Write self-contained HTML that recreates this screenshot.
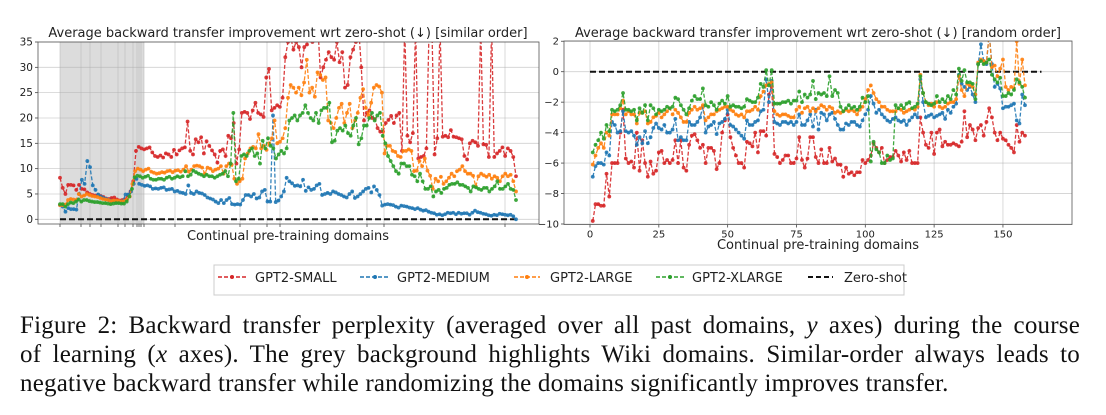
<!DOCTYPE html>
<html><head><meta charset="utf-8"><style>
body{margin:0;width:1106px;height:415px;background:#fff;overflow:hidden;position:relative}
svg{position:absolute;left:0;top:0}
text{font-family:"DejaVu Sans","Liberation Sans",sans-serif;fill:#222}
#cap{position:absolute;left:20px;top:311px;width:1060px;font-family:"Liberation Serif",serif;font-size:25px;letter-spacing:0.2px;line-height:29px;color:#111}
#cap .ln{display:block;text-align:justify;text-align-last:justify;white-space:nowrap}
#cap .last{text-align-last:left}
</style></head><body>
<svg id="svg" width="1106" height="415">
<defs>
<clipPath id="cl"><rect x="38" y="42" width="501" height="182"/></clipPath>
<clipPath id="cr"><rect x="564" y="41" width="508" height="183"/></clipPath>
</defs>
<g id="left"></g>
<g id="right"></g>
<g>
<rect x="214" y="265" width="690" height="30" fill="#fff" stroke="#ccc"/>
<g><line x1="218" y1="277" x2="246" y2="277" stroke="#d62728" stroke-width="1.4" stroke-dasharray="4,2"/><circle cx="232" cy="277" r="2" fill="#d62728"/><text x="255" y="282" font-size="13">GPT2-SMALL</text></g>
<g><line x1="360" y1="277" x2="390" y2="277" stroke="#1f77b4" stroke-width="1.4" stroke-dasharray="4,2"/><circle cx="375" cy="277" r="2" fill="#1f77b4"/><text x="397" y="282" font-size="13">GPT2-MEDIUM</text></g>
<g><line x1="514" y1="277" x2="540" y2="277" stroke="#ff7f0e" stroke-width="1.4" stroke-dasharray="4,2"/><circle cx="527" cy="277" r="2" fill="#ff7f0e"/><text x="550" y="282" font-size="13">GPT2-LARGE</text></g>
<g><line x1="656" y1="277" x2="684" y2="277" stroke="#2ca02c" stroke-width="1.4" stroke-dasharray="4,2"/><circle cx="670" cy="277" r="2" fill="#2ca02c"/><text x="692" y="282" font-size="13">GPT2-XLARGE</text></g>
<g><line x1="808" y1="277" x2="833" y2="277" stroke="#111" stroke-width="2" stroke-dasharray="5,3"/><text x="844" y="282" font-size="13">Zero-shot</text></g>
</g>
</svg>
<div id="cap"><span class="ln">Figure 2: Backward transfer perplexity (averaged over all past domains, <i>y</i> axes) during the course</span><span class="ln">of learning (<i>x</i> axes). The grey background highlights Wiki domains. Similar-order always leads to</span><span class="ln last">negative backward transfer while randomizing the domains significantly improves transfer.</span></div>
<script>
const colors={small:'#d62728',medium:'#1f77b4',large:'#ff7f0e',xlarge:'#2ca02c'};
const seriesNames=['small','medium','large','xlarge'];
// Left chart (similar order)
const leftYTicks=[0,5,10,15,20,25,30,35];
const leftSmall=[8.2,6.2,5,6.8,6.8,6.7,5.8,6.8,6,5.9,5.3,5,4.8,4.7,4.8,4.6,4.4,4.1,4,4.2,4.3,3.9,3.7,3.8,3.9,4.8,5.5,7.5,13.5,14.3,14,13.8,14,14.2,13.2,12.5,12.3,12.6,12.2,13,12.8,12.3,13.7,12.8,13.6,14,14.2,19.3,13.5,12.8,15.8,15.2,16.2,13,15.4,14.5,13.6,12.8,11.2,13.5,13.8,12.5,16.5,16,19,11,13.8,21,21.2,21,19.8,21.5,23,21,20.7,20.2,28,29.7,21.5,22,22.5,22.2,24,32,35,36,33.5,35,34,30,34,34.5,38,35,36,38,28,30,31.5,33,32,31.5,35,31,33,26,26.5,32,33.5,35,38,30,19.5,21,21.5,20,19.8,18,17.3,17.3,19,19.6,20.4,19,20.5,21,13.5,38,16.5,15.2,17,38,12,12.3,12.5,14,38,38,12.8,16,38,16.3,16.5,16.2,17.6,16.3,16.2,16,15.8,12.5,11.8,15,15.5,15.2,14.5,38,14.8,14.7,12.3,38,12.3,13,13.5,14.2,12.5,14,13.5,12.3,8.5];
const leftMedium=[2.8,2.5,1.5,2.2,2,2,1.9,5,7.8,7,11.5,10.3,6.7,5.8,4.9,4.5,4.2,4.0,3.8,3.6,3.6,3.4,3.5,3.6,4.9,4.9,5.5,7,8,7,6.8,6.6,6.7,6.5,6,6.1,6,6.2,6.3,5.8,5.9,6,5.5,5.6,5.3,5.2,5,6.7,5.2,5,5.5,5.2,5.1,4.8,4.3,4.1,3.9,3.5,3.2,3.8,3.2,3.8,4.2,3,2.9,3,2.9,3.8,4.8,4.8,4.5,5,4.1,4.3,5.5,5.8,3.5,3.5,20.5,3.4,3.7,4.5,5.5,8.2,7.5,7.1,6.6,6.7,6.5,7.8,5.6,6.3,5.8,6,6.7,7,4.8,5,5.2,5,5.5,5.3,5,4.8,4.5,4.3,5,5.5,4.2,4.5,5,5.5,6,6.2,5.3,6.5,5.8,4.8,2.7,2.9,3,2.9,2.8,2.5,2.3,2.7,2.6,2.5,2.3,2.2,2.0,2.2,1.9,1.7,1.8,1.5,1.3,1.2,0.9,1,0.8,1,1.3,1.2,1.3,1,1.3,1.1,1.2,1.2,0.9,1.3,1.7,1.4,1.3,1.1,1,0.8,0.7,0.9,0.8,1.1,1,0.9,0.8,0.9,0.6,0];
const leftLarge=[2.8,2.8,2.9,3.8,4,3.9,3.8,5,4.5,4.7,5,4.8,4.6,4.5,4.4,4.2,4,3.9,3.8,3.6,3.7,3.7,3.6,3.5,3.6,3.9,4.5,7,9.5,10,9.8,9.5,9.8,10,9.4,9.2,9,9.1,9.3,9.2,9.5,9.6,9.3,9.6,9.7,9.4,9.8,10.5,9.4,9.8,10.5,10.6,10.5,10.2,9,10.2,10,9.5,9.8,10,10.5,9,10.5,11,10.8,8,7,7.5,8,12,13,14,14.3,14,16.8,14,14.5,13.7,15,16,19.5,15,15.3,16,18,24,26.5,26,25,26,24.5,27,31.5,25,26,24.2,29,28.5,27.5,28,19.5,19,18,20,22,22.8,19,21,22.8,18,19.5,21,24,25.7,22,20.5,23,26,26.5,26.2,25,13,14.5,14.5,13.5,13.3,12.5,12.3,13.5,13.5,13.8,13.5,9.5,9.6,11.5,10.5,12,9.6,8.6,6,8,7.5,8.4,7,7.5,8.2,9,8.5,9.5,9.8,10.5,9.5,9,9,8.6,6.5,8.5,9,8.7,8.4,8.8,8,8.5,8.2,7.5,8.5,9,8.5,8.8,7.5,5.5];
const leftXlarge=[3,3,2.5,3,3.3,3.2,3.5,3.9,3.5,3.8,3.8,3.6,3.5,3.4,3.4,3.3,3.2,3.2,3.1,3,3.1,3.2,3.2,3.1,3.1,3.5,4.5,6,8.3,8.6,8.5,8.2,8.4,8.6,8,7.8,7.8,8,8,7.8,8.2,8.4,8,8.2,8.5,8.3,8.5,9.5,8.5,8.8,9.6,9.3,9,8.8,8.5,8.8,8.5,8.5,8.2,8.5,8.8,9,9.5,8.5,11,21,7.5,8,12.5,12.8,12.5,13.5,14,12.5,13,11,15.5,14,16,14.5,14,12,12.8,13.5,13,14,19.5,20,20.5,19.5,20.5,21,22.5,21,20,19.5,21,19,21.5,22,22,23,15.2,15.5,17.5,18,17.5,18.5,17,16.5,18.5,20,14.8,16,18.5,18.5,20,21,19.5,20.5,21,16.5,15,12.5,11.5,10.5,9.5,9,11,11,10.5,10.5,8.8,8.5,7.5,9,7.5,6,6,6.5,4.5,5.5,5.8,5.2,6,6.2,6.8,7,7,7.3,6.8,6.8,6.5,6.2,5.5,6.5,6.3,6,5.8,6.2,6.2,5.5,6,6.5,7.5,6,6,6.5,7,6,5.8,3.8];
const leftZeroShot=[0,0];
// Right chart (random order)
const rightXTicks=[0,25,50,75,100,125,150];
const rightYTicks=[-10,-8,-6,-4,-2,0,2];
const rightSmall=[-9.8,-8.7,-8.7,-8.8,-8.8,-6.7,-8.2,-6,-6,-6,-4,-2.5,-5.7,-6,-5.9,-6.3,-4,-6.5,-4.5,-6,-6.9,-5.9,-6.7,-6.5,-5.3,-5.2,-6,-5.8,-6,-5.8,-4.5,-6,-4.5,-6.3,-6.5,-4.8,-4.2,-4.1,-4.5,-5,-4.8,-6,-5,-5,-5.2,-6.4,-6,-4,-3.2,-2.8,-4.3,-5,-5.5,-6,-6,-6.3,-4.6,-4.7,-4.9,-4,-5.3,-3.9,-3.9,-4.2,-1.5,-1,-5.4,-5.6,-6,-5.8,-5.5,-5.5,-6,-6,-5.7,-4.3,-5.8,-6.3,-5.7,-4.3,-4.3,-5.6,-6,-5.1,-6,-6,-5,-5.9,-5.7,-6.1,-6.1,-6.9,-6.3,-6.7,-6.6,-6.8,-6.6,-6.6,-5.8,-6,-5.8,-5.5,-4.7,-5,-5.3,-5,-6,-5.8,-5.6,-5.6,-5.2,-5.5,-5.9,-5.3,-5.8,-5.2,-6,-6,-6,-3,-4,-4.8,-5,-4,-5.4,-4,-3.8,-4.9,-4.6,-4.8,-4.8,-4.7,-4.8,-4.9,-4.6,-2.6,-4.3,-3.5,-3.8,-4.5,-3.7,-3.5,-4.2,-3.3,-2.4,-3,-4,-4.5,-4,-4.4,-4.5,-4.8,-5,-5.3,-3.5,-4.6,-4,-4.2];
const rightMedium=[-6.9,-6.2,-6,-6,-6.1,-5.3,-5.5,-3.3,-3.5,-4,-3.9,-2.6,-3.9,-4,-3.9,-4.2,-4.8,-4.3,-4.7,-3.9,-4.7,-4.3,-3.7,-3.4,-3.7,-3.8,-3.5,-4,-4,-3.8,-3.1,-4.5,-4.3,-4.5,-4.5,-3.3,-3.5,-3.5,-3.3,-3,-2.3,-4,-3.6,-3.5,-3.3,-4.1,-3.4,-3.3,-3.1,-2.5,-3.5,-3.6,-3.8,-4,-4.2,-4.4,-3.2,-3.5,-3.5,-3.3,-3.2,-2.6,-2.5,-0.5,-2,-0.6,-3.3,-3.4,-3.5,-3.3,-3.3,-3.4,-3.3,-3.5,-3.3,-2.8,-3.5,-3.5,-3.2,-2.8,-3.6,-2.5,-3.8,-2.7,-2.8,-3.2,-2.8,-2.7,-3.1,-3.5,-3.8,-3.8,-3.4,-3.5,-3.3,-3.3,-3.5,-3.6,-3.2,-2.8,-2.5,-1.6,-2.1,-2.7,-2.5,-2.8,-3,-3.2,-3.3,-3.1,-3,-3.2,-3.3,-3.2,-3.5,-3.2,-3,-2.8,-3,-0.5,-2,-3,-2.9,-2.8,-3,-2.9,-2.8,-2.7,-3.1,-2.5,-2.7,-2.3,-2.1,-0.2,-0.8,-1,-1.2,-1,-1.5,-2,0.5,1.8,0.7,0.5,2.5,0.5,-1,-0.8,-1.1,-2.4,-2.3,-2.3,-2.2,-2.1,-3.2,-3.4,-1.5,-2.2];
const rightLarge=[-6.1,-5.5,-5,-4.7,-5,-4,-4.2,-2.8,-2.8,-2.8,-2.4,-1.9,-2.8,-2.6,-2.8,-2.8,-3.4,-2.7,-2.7,-2.6,-3.4,-3.3,-3,-2.9,-2.7,-3,-2.8,-2.6,-2.4,-2.8,-2.5,-2.7,-3,-3.3,-3.3,-2.7,-2.5,-2.3,-2.5,-2.4,-2.2,-3.2,-3,-2.8,-2.8,-2.6,-2.5,-2.4,-2.3,-2.3,-2.5,-2.6,-2.8,-2.9,-2.8,-3,-2.6,-2.6,-2.5,-2.3,-2.5,-1.6,-1.3,-0.9,-0.8,-0.7,-2.6,-2.8,-2.9,-2.8,-2.8,-2.9,-3,-3,-2.5,-2.3,-2.7,-2.4,-2.3,-2.6,-2.4,-2.6,-2.4,-2.2,-2.3,-2.5,-2.3,-2.4,-2.7,-2.6,-2.7,-2.6,-2.5,-2.6,-2.5,-2.6,-2.8,-2.5,-2.3,-1.8,-1.2,-0.9,-1.4,-1.8,-2,-2.3,-2.3,-2.5,-2.6,-2.6,-2.6,-2.4,-2.5,-2.7,-2.6,-2.5,-2.4,-2.5,-2.3,-0.2,-1.4,-2,-2.2,-2.1,-2.3,-2,-2.3,-2.4,-2.3,-2.1,-2,-2,-1.8,-0.3,-1.2,-1.6,-0.8,-0.9,-1,-1.5,0.6,0.8,0.7,0.6,2.5,0.3,0.4,-0.3,0.2,0.8,-1,-1.2,-1,-1.1,2,-0.8,0.8,-0.9];
const rightXlarge=[-5.3,-4.8,-4.5,-4,-4.4,-3.5,-3.9,-2.5,-2.6,-2.5,-2.2,-1.4,-2.5,-2.5,-2.6,-2.5,-3.2,-2.4,-2.7,-2.2,-3.2,-2.2,-2.4,-2.8,-2.5,-2.6,-2.5,-2.3,-2.4,-2.3,-1.7,-1.8,-2.2,-2.5,-2.8,-2.4,-1.9,-1.6,-1.8,-1.8,-1.1,-2.2,-2.3,-2,-2.2,-2.5,-2.1,-1.9,-2.1,-1.6,-2.3,-2.2,-2.3,-2.3,-2.4,-2.3,-1.8,-1.9,-2,-2,-1.7,-0.8,-1,0.1,-0.9,0.1,-2.1,-2.1,-2.1,-2,-2,-1.9,-2.1,-1.9,-1.9,-1.3,-2,-1.5,-1.7,-1.5,-0.6,-1.8,-1.4,-1.5,-1.4,-1.6,-0.3,-1.6,-1.2,-1.4,-2.3,-2.6,-2.4,-2.2,-2.4,-2.3,-2.5,-2.3,-1.7,-2,-1.6,-5.9,-4.6,-5.1,-5.3,-6,-6,-5.5,-5.8,-5.7,-2.2,-2.4,-2.2,-2.4,-2.1,-2,-2.4,-2.3,-2.1,-0.3,-1.4,-2,-2.1,-2.2,-2.1,-1.6,-2,-1.8,-2,-1.6,-1.8,-1.2,-1.5,0.2,-0.6,0.1,-0.7,-0.7,-0.8,-1.8,0.5,0.7,0.5,0.6,0.8,-0.2,-0.5,-0.7,-0.4,-1.6,-1.6,-1.4,-1.5,-1.2,-0.5,-0.7,-1,-1.7];
const rightZeroShot=[0,0];

const NS='http://www.w3.org/2000/svg';
function mk(tag,attrs,parent){const e=document.createElementNS(NS,tag);for(const k in attrs)e.setAttribute(k,attrs[k]);parent.appendChild(e);return e;}

// ---------- LEFT ----------
const L=document.getElementById('left');
const lx0=38,lx1=539,ly0=42,ly1=224;
const lyS=v=>219.3-(v/35)*(219.3-42);
const lxS=(i,n)=>60+i*(456/(n-1));
let bg=mk('rect',{x:lx0,y:ly0,width:lx1-lx0,height:ly1-ly0,fill:'#fff'},L);


let wiki=mk('rect',{x:60,y:ly0,width:84,height:ly1-ly0,fill:'#dcdcdc'},L);


[60,81,90,101,118,125,133,137,139,141,144,175,240,267,280,367,384,505].forEach(x=>{
  mk('line',{x1:x,y1:ly0,x2:x,y2:ly1,stroke:'#b0b0b0','stroke-width':0.8,'stroke-opacity':0.6},L);
  mk('line',{x1:x,y1:ly1,x2:x,y2:ly1+3,stroke:'#444','stroke-width':0.8},L);
});
leftYTicks.forEach(v=>{
  const y=lyS(v);
  mk('line',{x1:lx0,y1:y,x2:lx1,y2:y,stroke:'#b0b0b0','stroke-width':0.8,'stroke-opacity':0.6},L);
  mk('line',{x1:lx0-3,y1:y,x2:lx0,y2:y,stroke:'#444','stroke-width':0.8},L);
  const t=mk('text',{x:lx0-5,y:y+3.5,'font-size':10.5,'text-anchor':'end'},L);t.textContent=v;
  
  
});
const lz=mk('line',{x1:60,y1:lyS(leftZeroShot[0]),x2:516,y2:lyS(leftZeroShot[1]),stroke:'#111','stroke-width':2,'stroke-dasharray':'6,3'},L);


function drawSeries(parent,data,color,xS,yS,clip,name){
  const g=mk('g',{'clip-path':clip},parent);
  
  
  const n=data.length;
  const pts=data.map((v,i)=>xS(i,n).toFixed(1)+','+yS(v).toFixed(1)).join(' ');
  mk('polyline',{points:pts,fill:'none',stroke:color,'stroke-width':1.3,'stroke-dasharray':'4,2','stroke-opacity':0.9},g);
  data.forEach((v,i)=>mk('circle',{cx:xS(i,n),cy:yS(v),r:1.9,fill:color,'fill-opacity':0.9},g));
}
const leftData={small:leftSmall,medium:leftMedium,large:leftLarge,xlarge:leftXlarge};
['small','medium','large','xlarge'].forEach(s=>drawSeries(L,leftData[s],colors[s],lxS,lyS,'url(#cl)','left-series-'+s));
let lb=mk('rect',{x:lx0,y:ly0,width:lx1-lx0,height:ly1-ly0,fill:'none',stroke:'#555','stroke-width':0.8},L);


let lt=mk('text',{x:288,y:37,'font-size':13,'text-anchor':'middle'},L);lt.textContent='Average backward transfer improvement wrt zero-shot (↓) [similar order]';


let lxl=mk('text',{x:288,y:240,'font-size':13,'text-anchor':'middle'},L);lxl.textContent='Continual pre-training domains';



// ---------- RIGHT ----------
const R=document.getElementById('right');
const rx0=564,rx1=1072,ry0=41,ry1=224.5;
const rxV=v=>590+v*2.753;
const rxS=(i,n)=>rxV(i+1);
const ryS=v=>71.7-(v/2)*30.46;
rightXTicks.forEach(v=>{
  const x=rxV(v);
  mk('line',{x1:x,y1:ry0,x2:x,y2:ry1,stroke:'#b0b0b0','stroke-width':0.8,'stroke-opacity':0.6},R);
  mk('line',{x1:x,y1:ry1,x2:x,y2:ry1+3,stroke:'#444','stroke-width':0.8},R);
  const t=mk('text',{x:x,y:ry1+13,'font-size':10,'text-anchor':'middle'},R);t.textContent=v;
  
  
});
rightYTicks.forEach(v=>{
  const y=ryS(v);
  mk('line',{x1:rx0,y1:y,x2:rx1,y2:y,stroke:'#b0b0b0','stroke-width':0.8,'stroke-opacity':0.6},R);
  mk('line',{x1:rx0-3,y1:y,x2:rx0,y2:y,stroke:'#444','stroke-width':0.8},R);
  const t=mk('text',{x:rx0-5,y:y+3.5,'font-size':10,'text-anchor':'end'},R);t.textContent=v<0?'\u2212'+(-v):v;
  
  
});
const rz=mk('line',{x1:rxV(0),y1:ryS(rightZeroShot[0]),x2:rxV(164),y2:ryS(rightZeroShot[1]),stroke:'#111','stroke-width':2,'stroke-dasharray':'6,3'},R);


const rightData={small:rightSmall,medium:rightMedium,large:rightLarge,xlarge:rightXlarge};
['small','medium','large','xlarge'].forEach(s=>drawSeries(R,rightData[s],colors[s],rxS,ryS,'url(#cr)','right-series-'+s));
let rb=mk('rect',{x:rx0,y:ry0,width:rx1-rx0,height:ry1-ry0,fill:'none',stroke:'#555','stroke-width':0.8},R);


let rt=mk('text',{x:818,y:37,'font-size':13,'text-anchor':'middle'},R);rt.textContent='Average backward transfer improvement wrt zero-shot (↓) [random order]';


let rxl=mk('text',{x:818,y:249,'font-size':13,'text-anchor':'middle'},R);rxl.textContent='Continual pre-training domains';


</script>
</body></html>
